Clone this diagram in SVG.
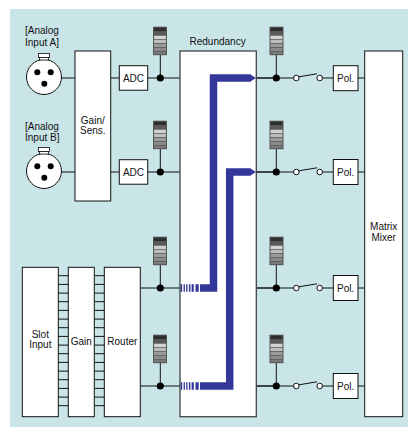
<svg xmlns="http://www.w3.org/2000/svg" width="408" height="427" viewBox="0 0 408 427">
<defs>
<style>
text{font-family:"Liberation Sans",Arial,sans-serif;font-size:10px;fill:#111}
.box{fill:#fff;stroke:#111;stroke-width:1}
.bigbox{fill:#fff;stroke:#444;stroke-width:1.3}
.ln{stroke:#111;stroke-width:1;fill:none}
.dot{fill:#000}
.sw{fill:#fff;stroke:#111;stroke-width:1}
.blue{fill:none;stroke:#33379a;stroke-width:7.5}
.bf{fill:#33379a}
.c{text-anchor:middle}
</style>
<g id="meter">
<rect x="0" y="0" width="14" height="28.5" fill="#555"/>
<rect x="1" y="1" width="12" height="3.3" fill="#2e2e2e"/>
<rect x="1" y="5" width="12" height="3.3" fill="#5a5a5a"/>
<rect x="1" y="9" width="12" height="3.3" fill="#d2d2d2"/>
<rect x="1" y="13" width="12" height="3.3" fill="#bdbdbd"/>
<rect x="1" y="17" width="12" height="3.3" fill="#9a9a9a"/>
<rect x="1" y="21" width="12" height="3.3" fill="#8a8a8a"/>
<rect x="1" y="25" width="12" height="2.5" fill="#7a7a7a"/>
</g>
<g id="xlr">
<circle cx="0" cy="0" r="17.5" fill="#fff" stroke="#111" stroke-width="1"/>
<rect x="-5.5" y="-23.5" width="11" height="4" fill="#fff" stroke="#111" stroke-width="0.8"/>
<rect x="-4.5" y="-19.5" width="9" height="2.5" fill="#fff" stroke="#111" stroke-width="0.8"/>
<circle cx="-6.7" cy="-4.8" r="3" fill="#000"/>
<circle cx="6.7" cy="-4.8" r="3" fill="#000"/>
<circle cx="0.3" cy="6.8" r="3" fill="#000"/>
</g>
<g id="switch">
<line x1="0" y1="0" x2="37.6" y2="0" class="ln"/>
<line x1="40.6" y1="-0.8" x2="61" y2="-4.2" class="ln"/>
<line x1="66.4" y1="0" x2="77.3" y2="0" class="ln"/>
<circle cx="40.3" cy="0" r="2.8" class="sw"/>
<circle cx="63.7" cy="0" r="2.8" class="sw"/>
</g>
<g id="stripes">
<rect x="180.6" y="-3.75" width="1.6" height="7.5" class="bf"/>
<rect x="183.6" y="-3.75" width="1.3" height="7.5" class="bf"/>
<rect x="186.2" y="-3.75" width="1.3" height="7.5" class="bf"/>
<rect x="188.9" y="-3.75" width="1.5" height="7.5" class="bf"/>
<rect x="191.6" y="-3.75" width="2.2" height="7.5" class="bf"/>
<rect x="195.5" y="-3.75" width="3.2" height="7.5" class="bf"/>
</g>
</defs>
<rect x="0" y="0" width="408" height="427" fill="#fff"/>
<rect x="10" y="9" width="398" height="418" fill="#c9e5e8"/>

<g id="connectors">
<line x1="61.5" y1="78" x2="75" y2="78" class="ln"/>
<line x1="61.5" y1="172" x2="75" y2="172" class="ln"/>
<line x1="110.7" y1="78" x2="119.3" y2="78" class="ln"/>
<line x1="110.7" y1="172" x2="119.3" y2="172" class="ln"/>
<line x1="147.7" y1="78" x2="180" y2="78" class="ln"/>
<line x1="147.7" y1="172" x2="180" y2="172" class="ln"/>
<line x1="140.3" y1="288" x2="180" y2="288" class="ln"/>
<line x1="140.3" y1="386" x2="180" y2="386" class="ln"/>
<line x1="160.3" y1="55" x2="160.3" y2="78" class="ln"/>
<line x1="160.3" y1="149" x2="160.3" y2="172" class="ln"/>
<line x1="160.3" y1="265" x2="160.3" y2="288" class="ln"/>
<line x1="160.3" y1="363" x2="160.3" y2="386" class="ln"/>
<circle cx="160.3" cy="78" r="3.6" class="dot"/>
<circle cx="160.3" cy="172" r="3.6" class="dot"/>
<circle cx="160.3" cy="288" r="3.6" class="dot"/>
<circle cx="160.3" cy="386" r="3.6" class="dot"/>
<g id="ladder" class="ln">
<path d="M58.3 275.7H68.3M58.3 284.4H68.3M58.3 293.1H68.3M58.3 301.7H68.3M58.3 310.4H68.3M58.3 319.1H68.3M58.3 327.7H68.3M58.3 336.4H68.3M58.3 345.1H68.3M58.3 353.7H68.3M58.3 362.4H68.3M58.3 371.1H68.3M58.3 379.7H68.3M58.3 388.4H68.3M58.3 397.1H68.3M58.3 405.7H68.3"/>
<path d="M94.3 275.7H104.3M94.3 284.4H104.3M94.3 293.1H104.3M94.3 301.7H104.3M94.3 310.4H104.3M94.3 319.1H104.3M94.3 327.7H104.3M94.3 336.4H104.3M94.3 345.1H104.3M94.3 353.7H104.3M94.3 362.4H104.3M94.3 371.1H104.3M94.3 379.7H104.3M94.3 388.4H104.3M94.3 397.1H104.3M94.3 405.7H104.3"/>
</g>
<line x1="256.3" y1="78" x2="275.7" y2="78" class="ln"/>
<line x1="256.3" y1="172" x2="275.7" y2="172" class="ln"/>
<line x1="256.3" y1="288" x2="275.7" y2="288" class="ln"/>
<line x1="256.3" y1="386" x2="275.7" y2="386" class="ln"/>
<use href="#switch" x="256" y="78"/>
<use href="#switch" x="256" y="172"/>
<use href="#switch" x="256" y="288"/>
<use href="#switch" x="256" y="386"/>
<line x1="276.3" y1="55" x2="276.3" y2="78" class="ln"/>
<line x1="276.3" y1="149" x2="276.3" y2="172" class="ln"/>
<line x1="276.3" y1="265" x2="276.3" y2="288" class="ln"/>
<line x1="276.3" y1="363" x2="276.3" y2="386" class="ln"/>
<circle cx="276.3" cy="78" r="3.6" class="dot"/>
<circle cx="276.3" cy="172" r="3.6" class="dot"/>
<circle cx="276.3" cy="288" r="3.6" class="dot"/>
<circle cx="276.3" cy="386" r="3.6" class="dot"/>
<line x1="358" y1="78" x2="364.7" y2="78" class="ln"/>
<line x1="358" y1="172" x2="364.7" y2="172" class="ln"/>
<line x1="358" y1="288" x2="364.7" y2="288" class="ln"/>
<line x1="358" y1="386" x2="364.7" y2="386" class="ln"/>
</g>

<g id="meters">
<use href="#meter" x="153" y="26.7"/>
<use href="#meter" x="153" y="120.7"/>
<use href="#meter" x="153" y="236.7"/>
<use href="#meter" x="153" y="334.7"/>
<use href="#meter" x="269.5" y="26.7"/>
<use href="#meter" x="269.5" y="120.7"/>
<use href="#meter" x="269.5" y="236.7"/>
<use href="#meter" x="269.5" y="334.7"/>
</g>

<g id="analog-a">
<text x="25" y="34">[Analog</text>
<text x="25" y="45.5">Input A]</text>
<use href="#xlr" x="44" y="77"/>
</g>
<g id="analog-b">
<text x="25" y="130">[Analog</text>
<text x="25" y="141">Input B]</text>
<use href="#xlr" x="44" y="171"/>
</g>
<g id="gain-sens">
<rect x="75" y="51" width="35.7" height="150" class="box"/>
<text x="92.8" y="124" class="c">Gain/</text>
<text x="92.8" y="134" class="c">Sens.</text>
</g>
<g id="adc-a">
<rect x="119.3" y="65.7" width="28.4" height="24.5" class="box"/>
<text x="133.5" y="81.6" class="c">ADC</text>
</g>
<g id="adc-b">
<rect x="119.3" y="159.7" width="28.4" height="24.5" class="box"/>
<text x="133.5" y="175.6" class="c">ADC</text>
</g>
<g id="slot-input">
<rect x="22.3" y="267.3" width="36" height="149.4" class="box"/>
<text x="40.3" y="337.5" class="c">Slot</text>
<text x="40.3" y="347.5" class="c">Input</text>
</g>
<g id="gain">
<rect x="68.3" y="267.3" width="26" height="149.4" class="box"/>
<text x="81.3" y="345" class="c">Gain</text>
</g>
<g id="router">
<rect x="104.3" y="267.3" width="36" height="149.4" class="box"/>
<text x="122.3" y="345" class="c">Router</text>
</g>
<g id="redundancy">
<text x="189.5" y="45">Redundancy</text>
<rect x="180" y="51" width="76.3" height="365.7" class="bigbox"/>
<path d="M200 288H213.5V78H250.5" class="blue"/>
<path d="M250 74.2L256 78L250 81.8Z" class="bf"/>
<use href="#stripes" x="0" y="288"/>
<path d="M200 386H229.7V172H250.5" class="blue"/>
<path d="M250 168.2L256 172L250 175.8Z" class="bf"/>
<use href="#stripes" x="0" y="386"/>
</g>
<g id="pol-1"><rect x="333.3" y="65.7" width="24.7" height="25" class="box"/><text x="345.7" y="81.6" class="c">Pol.</text></g>
<g id="pol-2"><rect x="333.3" y="159.5" width="24.7" height="25" class="box"/><text x="345.7" y="175.6" class="c">Pol.</text></g>
<g id="pol-3"><rect x="333.3" y="275.5" width="24.7" height="25" class="box"/><text x="345.7" y="291.6" class="c">Pol.</text></g>
<g id="pol-4"><rect x="333.3" y="373.5" width="24.7" height="25" class="box"/><text x="345.7" y="389.6" class="c">Pol.</text></g>
<g id="matrix-mixer">
<rect x="364.7" y="51" width="38" height="365.7" class="box"/>
<text x="383.7" y="229.5" class="c">Matrix</text>
<text x="383.7" y="240.5" class="c">Mixer</text>
</g>
</svg>
